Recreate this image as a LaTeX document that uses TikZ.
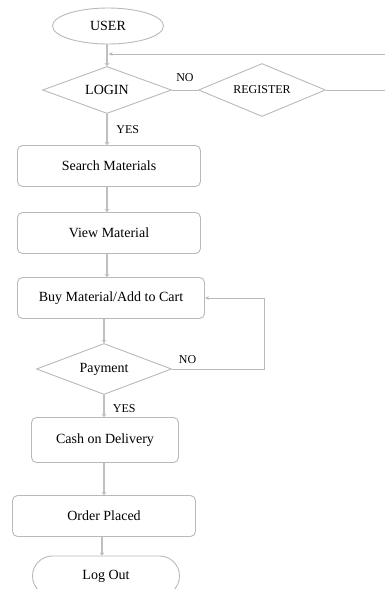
\documentclass[tikz,border=0pt]{standalone}
\usepackage{fontspec}
\setmainfont{Liberation Serif}
\usetikzlibrary{
  shapes.geometric,
  arrows.meta
}

\begin{document}
\begin{tikzpicture}[
  x=1pt, y=-1pt,
  font=\fontsize{14}{16}\selectfont,
  every node/.style={draw=gray!55, line width=0.9pt, inner sep=0pt},
  box/.style={rounded corners=5pt, minimum height=41pt},
  decision/.style={diamond, aspect=2.6},
  flow/.style={draw=gray!50, line width=2pt, -{Stealth[length=3pt,width=5pt]}},
  back/.style={draw=gray!55, line width=0.8pt, -{Stealth[length=4pt,width=3.5pt]}},
  lbl/.style={draw=none, font=\fontsize{12}{14}\selectfont},
]
\useasboundingbox (0,0) rectangle (385,589);
\clip (0,0) rectangle (385,589);

\node[ellipse, minimum width=111pt, minimum height=36pt] (user) at (108,26) {USER};
\node[decision, minimum width=129pt, minimum height=47pt] (login) at (107,90) {LOGIN};
\node[decision, minimum width=127pt, minimum height=53pt,
  font=\fontsize{12}{14}\selectfont] (register) at (262,90) {REGISTER};
\node[box, minimum width=183pt] (search) at (109,166) {Search Materials};
\node[box, minimum width=183pt] (view) at (109,233) {View Material};
\node[box, minimum width=187pt] (buy) at (111,298) {Buy Material/Add to Cart};
\node[decision, minimum width=135pt, minimum height=51pt] (pay) at (104,369) {Payment};
\node[box, minimum width=147pt, minimum height=45pt] (cash) at (105,440) {Cash on Delivery};
\node[box, minimum width=183pt] (order) at (104,516) {Order Placed};
\node[rounded corners=20pt, minimum width=147pt, minimum height=40pt] (logout) at (106,576) {Log Out};

\coordinate (regout) at (385,90);
\coordinate (userin) at (385,54);

\draw[flow] (user.south -| login.north) -- (login.north);
\draw[flow] (login.south) -- node[lbl, right=9pt] (yeslogin) {YES} (login.south |- search.north);
\draw[flow] (search.south -| login.south) -- (login.south |- view.north);
\draw[flow] (view.south -| login.south) -- (login.south |- buy.north);
\draw[flow] (buy.south -| pay.north) -- (pay.north);
\draw[flow] (pay.south) -- node[lbl, right=8.5pt, pos=0.6] (yespay) {YES} (pay.south |- cash.north);
\draw[flow] (cash.south -| pay.south) -- (pay.south |- order.north);
\draw[flow] (order.south -| 102,0) -- (102,0 |- logout.north);

\draw[back, -] (login.east) -- node[lbl, above=8pt] (nologin) {NO} (register.west);
\draw[back, -] (register.east) -- (regout);
\draw[back, shorten >=1.5pt] (userin) -- (userin -| login.north);
\draw[back] (pay.east) -- node[lbl, above=5pt, pos=0.17] (nopay) {NO} ++(92,0) |- (buy.east);
\end{tikzpicture}
\end{document}
